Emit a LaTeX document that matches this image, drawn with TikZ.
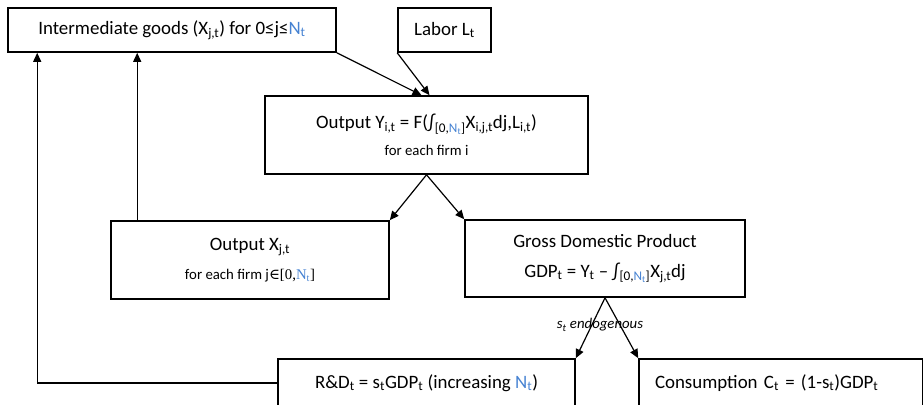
\documentclass[tikz,border=0pt]{standalone}
\usepackage{fontspec}
\setmainfont{Carlito}
\newfontfamily\serifsym{Liberation Serif}
\newfontfamily\dejasym{DejaVu Serif}
\usetikzlibrary{arrows.meta}
\definecolor{nblue}{RGB}{70,130,210}
\newcommand{\Nt}{\textcolor{nblue}{N\textsubscript{t}}}
\newcommand{\smallfont}{\fontsize{14.8}{18}\selectfont}
\begin{document}
\begin{tikzpicture}[x=1pt,y=-1pt,
    box/.style={draw,line width=1.6pt,inner sep=0pt,align=center,font=\fontsize{18.9}{22}\selectfont},
    arr/.style={line width=1.2pt,-{Triangle[length=9pt,width=8pt]}},
    small/.style={font=\smallfont}]
    \clip (0,0) rectangle (923,404);

    % top row
    \node (inter) at (172,30) [box,minimum width=328pt,minimum height=44pt]
        {Intermediate goods (X\textsubscript{j,t}) for 0≤j≤\Nt};
    \node (labor) at (444.5,30) [box,minimum width=93pt,minimum height=44pt]
        {Labor L\textsubscript{t}};

    % firms
    \node (outY) at (426.5,135) [box,minimum width=323pt,minimum height=78pt]
        {Output Y\textsubscript{i,t} = F(∫\textsubscript{[0,\Nt]}X\textsubscript{i,j,t}dj,L\textsubscript{i,t})\\[5pt]
         {\smallfont for each firm i}};
    \node (outX) at (250,260) [box,minimum width=278pt,minimum height=78pt]
        {Output X\textsubscript{j,t}\\[7pt]
         {\smallfont for each firm j{\dejasym ∈}{\serifsym[0,\Nt]}}};
    \node (gdp) at (605,258.5) [box,minimum width=280pt,minimum height=77pt]
        {Gross Domestic Product\\[8pt]
         GDP\textsubscript{t} = Y\textsubscript{t} – ∫\textsubscript{[0,\Nt]}X\textsubscript{j,t}dj};

    % bottom row
    \node (rd) at (426.5,383) [box,minimum width=297pt,minimum height=48pt]
        {R\&D\textsubscript{t} = s\textsubscript{t}GDP\textsubscript{t} (increasing \Nt)};
    \node (cons) at (781,383) [box,minimum width=284pt,minimum height=48pt,
        align=left,text width=252pt,inner xsep=16pt]
        {Consumption C\textsubscript{t} = (1-s\textsubscript{t})GDP\textsubscript{t}};

    % connectors
    \draw[arr] (inter.south east) -- ([xshift=-5pt]outY.north);
    \draw[arr] (labor.south west) -- ([xshift=3pt]outY.north);
    \foreach \t in {outX.north east,gdp.north west}
        \draw[arr] (outY.south) -- (\t);
    \foreach \t in {rd.north east,cons.north west}
        \draw[arr] (gdp.south) -- (\t);
    \node (endo) at (600,325) [small] {\itshape s\textsubscript{t} endogenous};

    % feedback to intermediate goods
    \draw[arr] ([xshift=27pt]outX.north west) -- ([xshift=27pt]outX.north west |- inter.south);
    \draw[arr] (rd.west) -| ([xshift=30pt]inter.south west);
\end{tikzpicture}
\end{document}
